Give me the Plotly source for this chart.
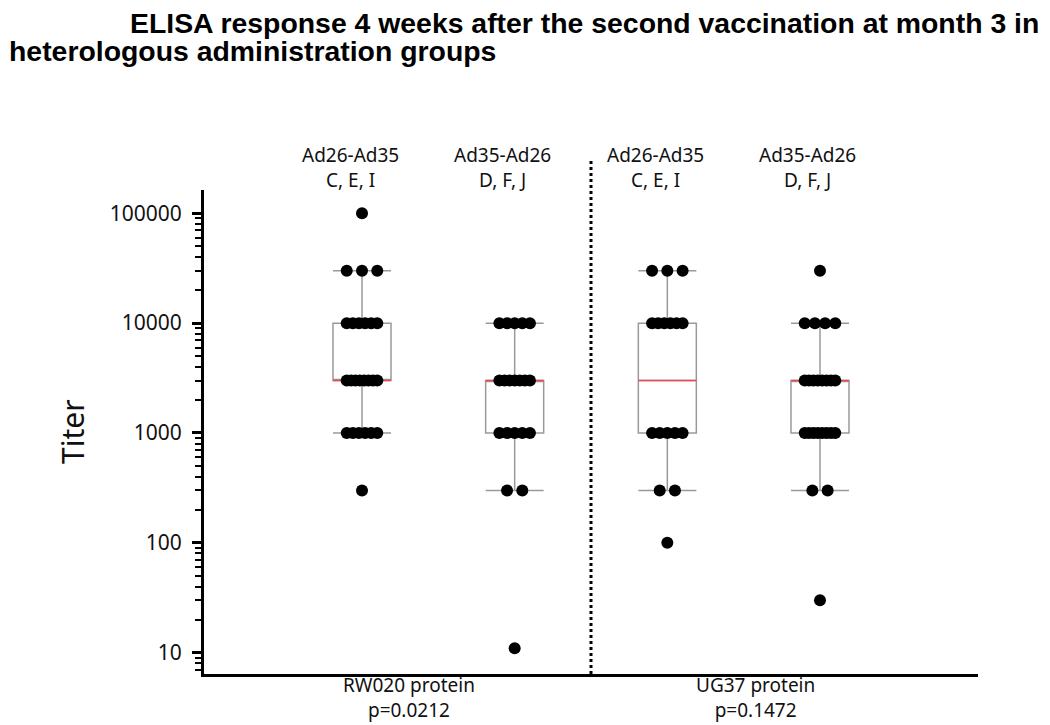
import numpy as np
import plotly.graph_objects as go

# ---------------- data ----------------
group_names = ["Ad26-Ad35", "Ad35-Ad26", "Ad26-Ad35", "Ad35-Ad26"]
group_regimens = ["C, E, I", "D, F, J", "C, E, I", "D, F, J"]
protein_labels = ["RW020 protein", "UG37 protein"]
p_values = ["p=0.0212", "p=0.1472"]

box_q1 = [3000, 1000, 1000, 1000]
box_median = [3000, 3000, 3000, 3000]
box_q3 = [10000, 3000, 10000, 3000]
box_lower = [1000, 300, 300, 300]
box_upper = [30000, 10000, 30000, 10000]

g1_levels = [100000, 30000, 10000, 3000, 1000, 300]
g1_counts = [1, 3, 6, 8, 6, 1]
g2_levels = [10000, 3000, 1000, 300, 11]
g2_counts = [5, 7, 5, 2, 1]
g3_levels = [30000, 10000, 1000, 300, 100]
g3_counts = [3, 6, 5, 2, 1]
g4_levels = [30000, 10000, 3000, 1000, 300, 30]
g4_counts = [1, 4, 8, 8, 2, 1]

y_tickvals = [10, 100, 1000, 10000, 100000]
y_ticktext = ["10", "100", "1000", "10000", "100000"]

# ---------------- figure ----------------
OFF = 8  # page body margin
W, H = 1050 - OFF, 725 - OFF
L, R, T, B = 204 - OFF, 72, 190 - OFF, 51
pw, ph = W - L - R, H - T - B
def px_to_paper_x(px):
    return (px - OFF - L) / pw
def px_to_paper_y(py):
    return (H - B - (py - OFF)) / ph

positions = [0, 1, 2, 3]
box_w = 0.38
text_col = "#111111"
font_main = "Noto Sans"

fig = go.Figure()

fig.add_trace(go.Box(
    x=positions, q1=box_q1, median=box_median, q3=box_q3,
    lowerfence=box_lower, upperfence=box_upper,
    width=box_w, whiskerwidth=1, fillcolor="white",
    line=dict(color="#9a9a9a", width=1.5), boxpoints=False,
    showlegend=False, hoverinfo="skip",
))

mx, my = [], []
for p, m in zip(positions, box_median):
    mx += [p - box_w / 2, p + box_w / 2, None]
    my += [m, m, None]
fig.add_trace(go.Scatter(x=mx, y=my, mode="lines",
                         line=dict(color="#f0434a", width=1.5),
                         showlegend=False, hoverinfo="skip"))

all_levels = [g1_levels, g2_levels, g3_levels, g4_levels]
all_counts = [g1_counts, g2_counts, g3_counts, g4_counts]
px_list, py_list = [], []
for p, levels, counts in zip(positions, all_levels, all_counts):
    for v, n in zip(levels, counts):
        span = 0.0 if n == 1 else (0.1 if n == 2 else 0.2)
        offs = np.linspace(-span / 2, span / 2, n) if n > 1 else [0.0]
        for o in offs:
            px_list.append(p + o)
            py_list.append(v)
fig.add_trace(go.Scatter(x=px_list, y=py_list, mode="markers",
                         marker=dict(color="black", size=12),
                         showlegend=False, hoverinfo="skip"))

# divider
fig.add_shape(type="line", xref="x", yref="paper", x0=1.5, x1=1.5,
              y0=0, y1=px_to_paper_y(161),
              line=dict(color="black", width=3, dash="dot"))

ann = []
for p, g, r in zip(positions, group_names, group_regimens):
    ann.append(dict(x=p, y=px_to_paper_y(167), xref="x", yref="paper",
                    text=g + "<br>" + r,
                    showarrow=False, xshift=-12, xanchor="center", yanchor="middle",
                    align="center",
                    font=dict(family=font_main, size=19, color=text_col)))
for xpix, pl, pv in zip([409, 755], protein_labels, p_values):
    ann.append(dict(x=px_to_paper_x(xpix), y=px_to_paper_y(697), xref="paper", yref="paper",
                    text=pl + "<br>" + pv, showarrow=False, xanchor="center",
                    yanchor="middle", align="center", borderpad=0,
                    font=dict(family=font_main, size=19, color=text_col)))
ann.append(dict(x=px_to_paper_x(72), y=px_to_paper_y(432), xref="paper", yref="paper",
                text="Titer", showarrow=False, textangle=-90,
                xanchor="center", yanchor="middle",
                font=dict(family=font_main, size=30, color=text_col)))
# title lines
ann.append(dict(x=px_to_paper_x(1040), y=px_to_paper_y(23), xref="paper", yref="paper",
                text="<b>ELISA response 4 weeks after the second vaccination at month 3 in</b>",
                showarrow=False, xanchor="right", yanchor="middle", borderpad=0,
                font=dict(family="Liberation Sans", size=28.4, color="black")))
ann.append(dict(x=px_to_paper_x(OFF), y=px_to_paper_y(51), xref="paper", yref="paper",
                text="<b>heterologous administration groups</b>",
                showarrow=False, xanchor="left", yanchor="middle", borderpad=0,
                font=dict(family="Liberation Sans", size=28.4, color="black")))

minor_vals = [k * 10 ** d for d in range(0, 6) for k in range(2, 10)]

fig.update_layout(
    width=W, height=H,
    margin=dict(l=L, r=R, t=T, b=B),
    plot_bgcolor="white", paper_bgcolor="white",
    annotations=ann,
    xaxis=dict(range=[-1.035, 4.035], showline=True, linecolor="black", linewidth=3,
               showticklabels=False, ticks="", showgrid=False, zeroline=False),
    yaxis=dict(type="log", range=[0.806, 5.212], showline=True, linecolor="black",
               linewidth=3, tickmode="array", tickvals=y_tickvals, ticktext=y_ticktext,
               ticks="outside", ticklen=9, tickwidth=3, tickcolor="black",
               ticklabelstandoff=6,
               tickfont=dict(family=font_main, size=21, color=text_col),
               showgrid=False, zeroline=False,
               minor=dict(tickmode="array", tickvals=minor_vals, ticks="outside",
                          ticklen=6, tickwidth=2, tickcolor="black", showgrid=False)),
)

fig.write_html("out.html")
